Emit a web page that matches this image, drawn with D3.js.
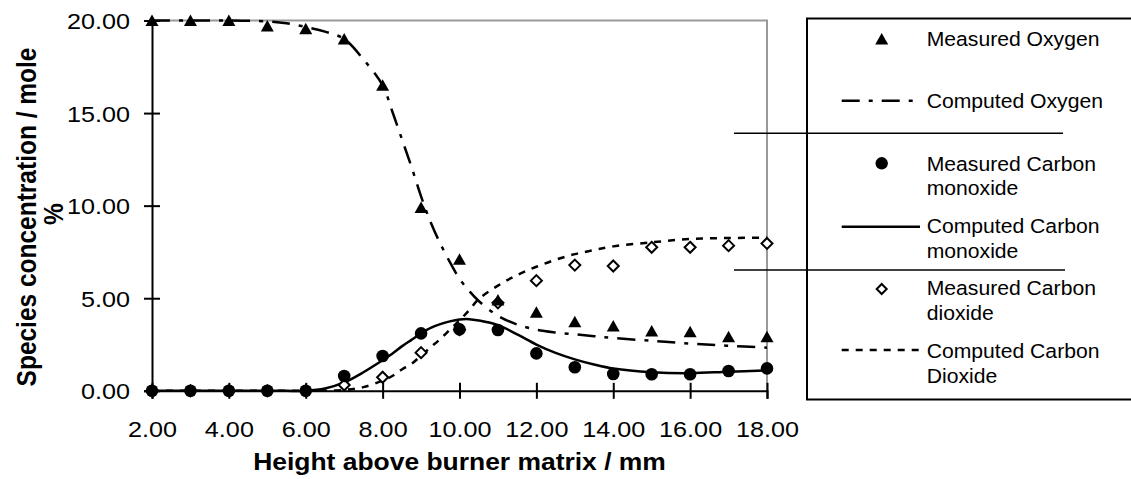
<!DOCTYPE html>
<html>
<head>
<meta charset="utf-8">
<script src="https://cdn.jsdelivr.net/npm/d3@7"></script>
<style>
  html, body { margin: 0; padding: 0; background: #fff; }
  svg { display: block; }
  text { font-family: "Liberation Sans", Arial, Helvetica, sans-serif; fill: #000; }
</style>
</head>
<body>
<svg id="chart" width="1131" height="479"></svg>
<script>
// ---------- DATA ----------
const heights = [2, 3, 4, 5, 6, 7, 8, 9, 10, 11, 12, 13, 14, 15, 16, 17, 18];
const measuredOxygen = [20.0, 20.0, 20.0, 19.7, 19.55, 19.0, 16.5, 9.9, 7.1, 4.9, 4.24, 3.73, 3.5, 3.23, 3.19, 2.92, 2.92];
const measuredCO = [0, 0, 0, 0, 0, 0.8, 1.88, 3.1, 3.32, 3.28, 2.02, 1.27, 0.91, 0.89, 0.89, 1.07, 1.21];
const measuredCO2 = [0, 0, 0, 0, 0, 0.31, 0.73, 2.06, 3.3, 4.75, 5.95, 6.79, 6.74, 7.75, 7.75, 7.84, 7.96];

const computedHeights = [2, 3, 4, 5, 5.5, 6, 6.5, 7, 7.5, 8, 8.25, 8.5, 8.75, 9, 9.25, 9.5, 9.75, 10, 10.25, 10.5, 11, 11.5, 12, 12.5, 13, 13.5, 14, 15, 16, 17, 18];
const computedOxygen = [20, 20, 20, 19.95, 19.85, 19.65, 19.4, 19.0, 17.9, 16.5, 15.1, 13.6, 12.1, 10.5, 9.1, 7.95, 6.95, 6.05, 5.4, 4.85, 4.05, 3.58, 3.3, 3.15, 3.05, 2.95, 2.85, 2.7, 2.55, 2.43, 2.33];
const computedCO = [0, 0, 0, 0, 0, 0, 0.12, 0.45, 1.0, 1.65, 2.0, 2.4, 2.75, 3.1, 3.4, 3.6, 3.75, 3.85, 3.87, 3.8, 3.55, 3.05, 2.5, 2.05, 1.7, 1.42, 1.2, 1.0, 0.95, 1.03, 1.1];
const computedCO2 = [0, 0, 0, 0, 0, 0, 0, 0.05, 0.2, 0.55, 0.8, 1.15, 1.45, 1.9, 2.35, 2.8, 3.3, 3.8, 4.35, 4.95, 5.68, 6.25, 6.7, 7.08, 7.38, 7.6, 7.8, 8.02, 8.2, 8.25, 8.27];

const xTicks = [2, 4, 6, 8, 10, 12, 14, 16, 18];
const yTicks = [0, 5, 10, 15, 20];
const xTitle = "Height above burner matrix / mm";
const yTitleLines = ["Species concentration / mole", "%"];
const legendLabels = [
  ["Measured Oxygen"],
  ["Computed Oxygen"],
  ["Measured Carbon", "monoxide"],
  ["Computed Carbon", "monoxide"],
  ["Measured Carbon", "dioxide"],
  ["Computed Carbon", "Dioxide"]
];

// ---------- LAYOUT ----------
const svg = d3.select("#chart");
svg.append("rect").attr("width", 1131).attr("height", 479).attr("fill", "#fff");

const x = d3.scaleLinear().domain([2, 18]).range([152, 767]);
const y = d3.scaleLinear().domain([0, 20]).range([390.8, 20.5]);

function addText(parent, px, py, str, opts) {
  const o = Object.assign({ size: 20, weight: "normal", anchor: "start", sx: 1, sy: 1, rotate: 0 }, opts || {});
  return parent.append("text")
    .attr("transform", `translate(${px},${py}) rotate(${o.rotate}) scale(${o.sx},${o.sy})`)
    .attr("text-anchor", o.anchor)
    .attr("font-size", o.size)
    .attr("font-weight", o.weight)
    .text(str);
}

// gray frame (top and right)
svg.append("path")
  .attr("d", `M${x(2)},${y(20)} H${x(18)} V${y(0)}`)
  .attr("fill", "none").attr("stroke", "#999").attr("stroke-width", 2);

// axes
const tickSx = 1.12;
const yAxis = d3.axisLeft(y).tickValues(yTicks).tickSizeOuter(0).tickSize(8).tickFormat(d3.format(".2f"));
const gy = svg.append("g").attr("transform", `translate(${x(2)},0)`).call(yAxis);
gy.select(".domain").attr("stroke", "#000").attr("stroke-width", 2);
gy.selectAll(".tick line").attr("x1", 8).attr("x2", -8).attr("stroke", "#000").attr("stroke-width", 2);
gy.selectAll(".tick text")
  .attr("x", -22 / tickSx).attr("dy", "0.36em")
  .attr("transform", `scale(${tickSx},1)`)
  .attr("font-size", 22.5).attr("fill", "#000");

const xAxis = d3.axisBottom(x).tickValues(xTicks).tickSizeOuter(0).tickSize(8).tickFormat(d3.format(".2f"));
const gx = svg.append("g").attr("transform", `translate(0,${y(0)})`).call(xAxis);
gx.select(".domain").attr("stroke", "#000").attr("stroke-width", 2);
gx.selectAll(".tick line").attr("y1", -8).attr("y2", 8).attr("stroke", "#000").attr("stroke-width", 2);
gx.selectAll(".tick text")
  .attr("y", 46).attr("dy", 0)
  .attr("transform", `scale(${tickSx},1)`)
  .attr("font-size", 22.5).attr("fill", "#000");
svg.selectAll("g").attr("font-family", null).attr("font-size", null);

// axis titles
addText(svg, (x(2) + x(18)) / 2, 470, xTitle, { size: 23, weight: "bold", anchor: "middle", sx: 1.15 });
addText(svg, 36, 217, yTitleLines[0], { size: 24.5, weight: "bold", anchor: "middle", sy: 1.13, rotate: -90 });
addText(svg, 63, 214, yTitleLines[1], { size: 24.5, weight: "bold", anchor: "middle", sy: 1.13, rotate: -90 });

// ---------- SERIES ----------
const o2Dash = "18,9,4,9";
const co2Dash = "7,7";
const lineW = 2.5;

function lineFor(values) {
  return d3.line()
    .x((d, i) => x(computedHeights[i]))
    .y(d => y(d))
    .curve(d3.curveCatmullRom.alpha(0.5))(values);
}

svg.append("path").attr("d", lineFor(computedOxygen)).attr("fill", "none")
  .attr("stroke", "#000").attr("stroke-width", lineW).attr("stroke-dasharray", o2Dash);
svg.append("path").attr("d", lineFor(computedCO)).attr("fill", "none")
  .attr("stroke", "#000").attr("stroke-width", lineW);
svg.append("path").attr("d", lineFor(computedCO2)).attr("fill", "none")
  .attr("stroke", "#000").attr("stroke-width", lineW).attr("stroke-dasharray", co2Dash);

const triPath = "M0,-6 L6.5,5.5 L-6.5,5.5 Z";
const diaPath = "M0,-5.5 L5.5,0 L0,5.5 L-5.5,0 Z";

// diamonds (CO2) first, circles over them, then triangles
svg.append("g").selectAll("path").data(measuredCO2).join("path")
  .attr("d", diaPath)
  .attr("transform", (d, i) => `translate(${x(heights[i])},${y(d)})`)
  .attr("fill", "#fff").attr("stroke", "#000").attr("stroke-width", 2);

svg.append("g").selectAll("circle").data(measuredCO).join("circle")
  .attr("cx", (d, i) => x(heights[i])).attr("cy", d => y(d)).attr("r", 6.3)
  .attr("fill", "#000");

svg.append("g").selectAll("path").data(measuredOxygen).join("path")
  .attr("d", triPath)
  .attr("transform", (d, i) => `translate(${x(heights[i])},${y(d)})`)
  .attr("fill", "#000");

// ---------- LEGEND ----------
const lg = svg.append("g");
lg.append("rect").attr("x", 807).attr("y", 18.5).attr("width", 400).attr("height", 381)
  .attr("fill", "none").attr("stroke", "#000").attr("stroke-width", 2);
lg.append("line").attr("x1", 734).attr("x2", 1063).attr("y1", 133.3).attr("y2", 133.3)
  .attr("stroke", "#000").attr("stroke-width", 1.6);
lg.append("line").attr("x1", 734).attr("x2", 1065).attr("y1", 270).attr("y2", 270)
  .attr("stroke", "#000").attr("stroke-width", 1.6);

const legSx = 1.085, legSize = 19.5, legX = 926.7;
const baselines = [[45.7], [108.3], [170.7, 195.2], [233.3, 257.8], [295, 319.5], [358.3, 382.8]];
legendLabels.forEach((lines, k) => {
  lines.forEach((s, j) => addText(lg, legX, baselines[k][j], s, { size: legSize, sx: legSx }));
});
lg.append("path").attr("d", triPath).attr("transform", "translate(881.7,39)").attr("fill", "#000");
lg.append("line").attr("x1", 841.7).attr("x2", 920).attr("y1", 100.7).attr("y2", 100.7)
  .attr("stroke", "#000").attr("stroke-width", lineW).attr("stroke-dasharray", o2Dash);
lg.append("circle").attr("cx", 881.7).attr("cy", 163.3).attr("r", 6.2).attr("fill", "#000");
lg.append("line").attr("x1", 841.7).attr("x2", 920).attr("y1", 226.7).attr("y2", 226.7)
  .attr("stroke", "#000").attr("stroke-width", lineW);
lg.append("path").attr("d", "M0,-5 L5,0 L0,5 L-5,0 Z").attr("transform", "translate(881.7,289)")
  .attr("fill", "#fff").attr("stroke", "#000").attr("stroke-width", 2);
lg.append("line").attr("x1", 841.7).attr("x2", 922).attr("y1", 350).attr("y2", 350)
  .attr("stroke", "#000").attr("stroke-width", lineW).attr("stroke-dasharray", co2Dash);
</script>
</body>
</html>
